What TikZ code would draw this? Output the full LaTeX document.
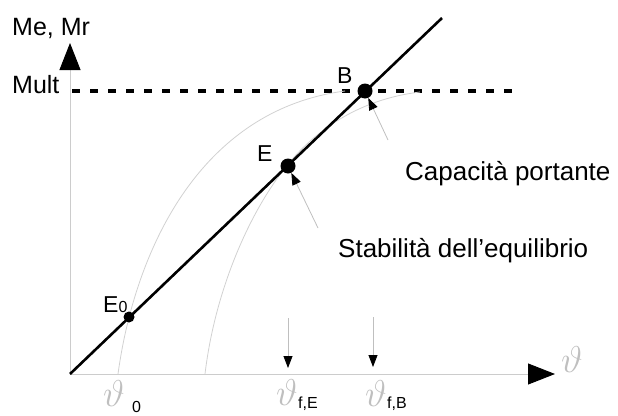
\documentclass[tikz,border=0pt]{standalone}
\usepackage{fontspec}
\setmainfont{Liberation Sans}
\usepackage{tikz}
\usetikzlibrary{arrows.meta, positioning}

\newcommand{\rot}{\scalebox{1.5}{$\vartheta$}}

\begin{document}
\begin{tikzpicture}[
      x=1pt, y=-1pt,
      >=Latex,
      axis/.style={draw=black!20, line width=0.9pt, -{Triangle[length=27pt, width=21pt, color=black]}},
      pointer/.style={draw=black!25, line width=0.8pt, -{Triangle[length=12pt, width=9pt, color=black]}},
      curve/.style={draw=black!18, line width=0.8pt},
      bigdot/.style={circle, fill=black, inner sep=0pt, minimum size=15pt},
      smalldot/.style={circle, fill=black, inner sep=0pt, minimum size=11pt},
      lbl/.style={anchor=base west, inner sep=0pt, font=\fontsize{26}{30}\selectfont},
      ptlbl/.style={anchor=base west, inner sep=0pt, font=\fontsize{23}{27}\selectfont},
      thlbl/.style={inner sep=0pt, text=black!25, font=\fontsize{24.88}{30}\selectfont},
      sublbl/.style={anchor=base west, inner sep=0pt, font=\fontsize{16}{18}\selectfont}
    ]
    \useasboundingbox (0,0) rectangle (618,415);

    % axes
    \coordinate (o) at (70,374);
    \coordinate (ytip) at (70,43);
    \coordinate (xtip) at (555,374);
    \draw[axis] (o) -- (ytip);
    \draw[axis] (o) -- (xtip);
    \node[lbl, font=\fontsize{25}{29}\selectfont] (ylab) at (12,35) {Me, Mr};
    \node[thlbl] (xlab) at (572,360) {\rot};

    % ultimate moment
    \node[lbl, font=\fontsize{25}{29}\selectfont] (mult) at (12,93) {Mult};
    \coordinate (ms) at (72,91);
    \coordinate (me) at (512,91);
    \draw[line width=4.5pt, dash pattern=on 8pt off 10pt] (ms) -- (me);

    % resisting moment curves
    \draw[curve] (118,374) .. controls (135,250) and (200,110) .. (345,91);
    \draw[curve] (205,374) .. controls (215,290) and (250,210) .. (289,163)
                 .. controls (324,121) and (370,98) .. (420,92);

    % external moment
    \coordinate (mtop) at (442,18);
    \draw[line width=2.6pt] (o) -- (mtop);
    \node[smalldot] (E0dot) at (129,317) {};
    \node[bigdot] (Edot) at (288,166) {};
    \node[bigdot] (Bdot) at (365,91) {};
    \node[ptlbl] (E0lab) at (103,312) {E{\fontsize{16}{18}\selectfont 0}};
    \node[ptlbl] (Elab) at (257,161) {E};
    \node[ptlbl] (Blab) at (337,83) {B};

    % annotations
    \node[lbl] (cap) at (405,180) {Capacità portante};
    \node[lbl] (stab) at (338,257) {Stabilità dell’equilibrio};
    \coordinate (pB) at (388,140);
    \coordinate (pE) at (318,228);
    \draw[pointer] (pB) -- (Bdot);
    \draw[pointer] (pE) -- (Edot);

    % rotations
    \node[thlbl] (th0) at (114,394) {\rot};
    \node[sublbl] (th0s) at (132,412) {0};
    \node[thlbl] (thE) at (287,393) {\rot};
    \node[sublbl] (thEs) at (298,408) {f,E};
    \node[thlbl] (thB) at (376,394) {\rot};
    \node[sublbl] (thBs) at (387,408) {f,B};
    \coordinate (dEs) at (288,318);
    \coordinate (dEe) at (288,368);
    \coordinate (dBs) at (373,317);
    \coordinate (dBe) at (373,367);
    \foreach \a/\b in {dEs/dEe, dBs/dBe}
      \draw[pointer] (\a) -- (\b);
  \end{tikzpicture}
\end{document}
